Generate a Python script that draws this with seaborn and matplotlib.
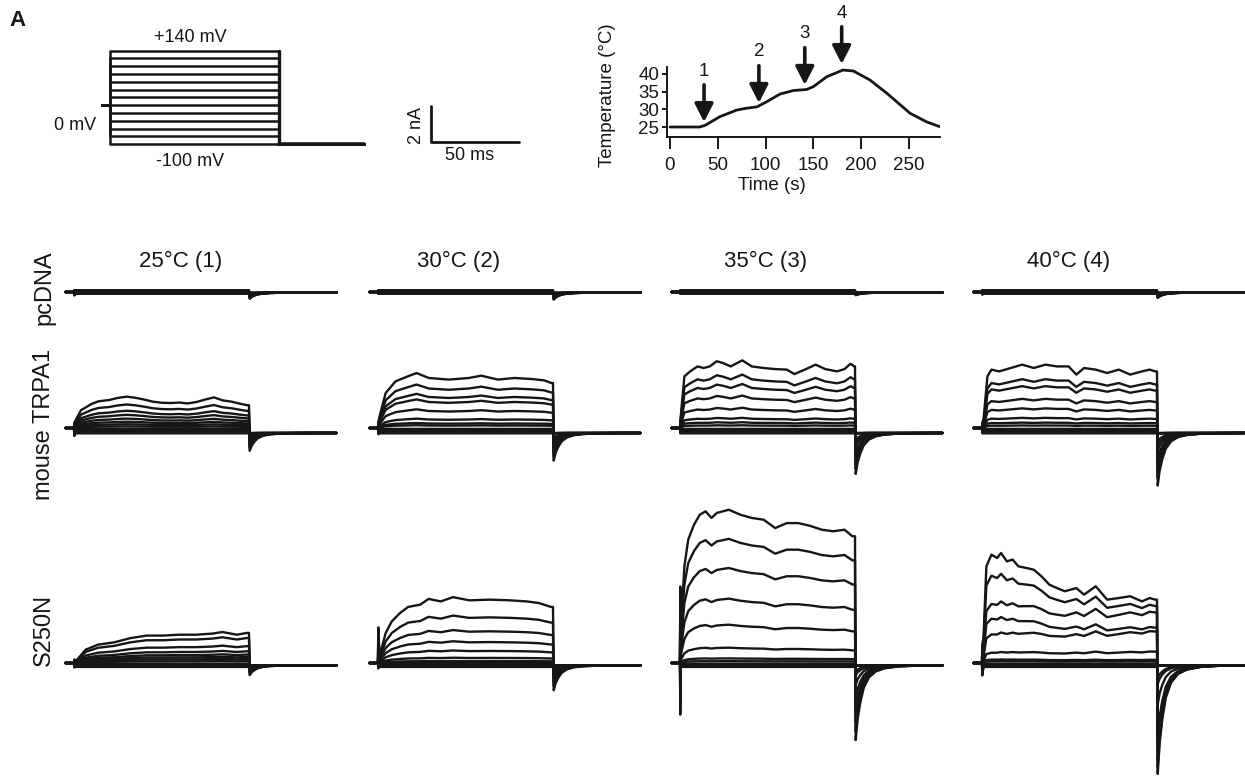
import numpy as np
import pandas as pd
import matplotlib
matplotlib.use("Agg")
import matplotlib.pyplot as plt
import seaborn as sns

sns.set_style("ticks")
plt.rcParams["font.family"] = ["Liberation Sans", "DejaVu Sans"]

W, H, DPI = 1245, 776, 100
INK = "#161616"

# ---------------- data ----------------
PROTO_STEPS_MV = [-100, -80, -60, -40, -20, 0, 20, 40, 60, 80, 100, 120, 140]
HOLD_MV = 0
TAIL_MV = -100
PRE_MS, STEP_MS, TAIL_MS = 5, 100, 50
SCALE_NA, SCALE_MS = 2, 50

TEMP_T = [0, 31, 37, 52, 70, 80, 91, 101, 115, 129, 143, 150, 164, 181, 192, 209, 227, 251, 268, 282]
TEMP_C = [25, 25, 25.5, 27.9, 29.8, 30.3, 30.7, 32.1, 34.3, 35.3, 35.6, 36.4, 39.2, 41.1, 40.8, 38.3, 34.5, 28.9, 26.5, 25.1]
ARROW_T = [35.6, 93, 141, 179.6]
ARROW_HEAD_C = [26.4, 31.8, 36.9, 42.8]
ARROW_LABELS = ["1", "2", "3", "4"]

COND_TITLES = ["25°C (1)", "30°C (2)", "35°C (3)", "40°C (4)"]
ROW_LABELS = ["pcDNA", "mouse TRPA1", "S250N"]

SWEEP_MV = [140, 120, 100, 80, 60, 40, 20, 0, -20, -40, -60, -80, -100]

# +140 mV sweep (ms, nA) for each panel
PC_T = [0, 1, 99]
PC_I = [0, 0.1, 0.1]

TRPA1_25_T = [0, 1, 4, 10, 14, 20, 25, 30, 35, 40, 45, 50, 55, 60, 65, 70, 75, 80, 85, 90, 95, 99]
TRPA1_25_I = [0, 0.45, 1.0, 1.35, 1.5, 1.57, 1.69, 1.76, 1.7, 1.6, 1.48, 1.42, 1.4, 1.43, 1.38, 1.46, 1.6, 1.72, 1.55, 1.48, 1.36, 1.28]
TRPA1_30_T = [0, 0.9, 4.4, 10, 17, 22, 29, 40.5, 52, 59, 68.5, 78, 87.8, 94.8, 99]
TRPA1_30_I = [0, 0.66, 1.97, 2.62, 2.9, 3.09, 2.81, 2.72, 2.81, 2.94, 2.72, 2.81, 2.75, 2.68, 2.53]
TRPA1_35_T = [0, 0.3, 2.5, 5.8, 10, 13.5, 17, 21, 24.6, 29, 35.6, 41, 47.8, 54.4, 61, 65.4, 72, 77.5, 83, 89.7, 94, 97.4, 99.6]
TRPA1_35_I = [0, 0.5, 2.9, 3.18, 3.46, 3.37, 3.46, 3.75, 3.65, 3.46, 3.8, 3.46, 3.37, 3.31, 3.28, 3.03, 3.31, 3.56, 3.31, 3.18, 3.31, 3.61, 3.46]
TRPA1_40_T = [0, 0.9, 3.1, 5.4, 9.8, 16.4, 23, 29.6, 36.2, 42.8, 49.5, 53.9, 58.3, 65, 71.5, 78.2, 84.7, 91.4, 95.8, 99]
TRPA1_40_I = [0, 0.5, 2.9, 3.28, 3.18, 3.37, 3.56, 3.37, 3.56, 3.46, 3.46, 3.0, 3.37, 3.28, 3.09, 3.28, 3.0, 3.18, 3.28, 3.18]

S250N_25_T = [0, 0.9, 6.7, 13.7, 23, 32.3, 41.6, 51, 60, 69.7, 79, 84.8, 93, 98.8]
S250N_25_I = [0, 0.09, 0.75, 1.03, 1.16, 1.4, 1.54, 1.54, 1.59, 1.59, 1.65, 1.74, 1.59, 1.69]
S250N_30_T = [0, 0.9, 4.4, 7.9, 12.6, 17.2, 24.2, 28.9, 35.9, 42.9, 52.2, 63.9, 75.5, 84.9, 91.9, 98.9]
S250N_30_I = [0, 0.37, 1.69, 2.34, 2.81, 3.15, 3.28, 3.6, 3.46, 3.7, 3.52, 3.56, 3.52, 3.46, 3.37, 3.15]
S250N_35_T = [0, 0.3, 2.5, 4.7, 8, 11.3, 14.6, 18, 21, 27.9, 34.5, 41, 47.8, 54.4, 61, 67.6, 74.2, 80.9, 87.5, 94, 98.5]
S250N_35_I = [0, 1.5, 5.43, 6.93, 7.77, 8.33, 8.52, 8.15, 8.43, 8.61, 8.33, 8.15, 8.05, 7.58, 7.86, 7.86, 7.71, 7.49, 7.4, 7.49, 7.12]
S250N_40_T = [0, 0.9, 2.5, 5.4, 8.6, 10.9, 14.2, 17.5, 20.8, 25.3, 29.6, 34, 38.5, 42.8, 47.3, 53.9, 58.3, 65, 71.5, 78.2, 84.7, 91.4, 95.8, 99]
S250N_40_I = [0, 1.5, 5.43, 6.09, 5.9, 6.18, 5.71, 5.81, 5.43, 5.34, 5.24, 4.87, 4.4, 4.21, 4.03, 4.21, 3.84, 4.31, 3.56, 3.65, 3.75, 3.46, 3.65, 3.56]

# fraction of the +140 mV sweep for sweeps +140 ... 0 mV (start / end of step)
PC_FRAC = [1, 0.8, 0.6, 0.4, 0.25, 0.15, 0.05, 0]
TRPA1_FRAC_25 = [1, 0.75, 0.55, 0.42, 0.30, 0.20, 0.12, 0.05]
TRPA1_FRAC_30 = [1, 0.79, 0.62, 0.52, 0.34, 0.17, 0.09, 0.05]
TRPA1_FRAC_35 = [1, 0.79, 0.65, 0.48, 0.30, 0.15, 0.085, 0.04]
TRPA1_FRAC_40 = [1, 0.77, 0.66, 0.46, 0.31, 0.16, 0.085, 0.04]
S250N_FRAC_25 = [1, 0.83, 0.56, 0.39, 0.28, 0.20, 0.13, 0.06]
S250N_FRAC_30 = [1, 0.72, 0.50, 0.33, 0.19, 0.08, 0.03, 0.01]
S250N_FRAC_35 = [1, 0.81, 0.62, 0.42, 0.25, 0.10, 0.03, 0.012]
S250N_FRAC_40_START = [1, 0.80, 0.53, 0.40, 0.25, 0.09, 0.03, 0.015]
S250N_FRAC_40_END = [1, 0.90, 0.80, 0.56, 0.50, 0.18, 0.05, 0.025]

# steady currents (nA) of the -20 ... -100 mV sweeps
PC_NEG = [-0.02, -0.04, -0.06, -0.08, -0.1]
TRPA1_NEG = [-0.05, -0.1, -0.16, -0.23, -0.3]
S250N_NEG = [-0.04, -0.08, -0.12, -0.17, -0.22]

# tail current at -100 mV (nA) per temperature, and level it settles to
PC_TAIL = [0, 0, 0, 0]
TRPA1_TAIL = [0.9, 1.45, 2.2, 2.85]
S250N_TAIL = [0.45, 1.3, 4.1, 6.0]
PC_CAP_END = [0.35, 0.4, 0.15, 0.3]
TRPA1_CAP_END = [0.1, 0.1, 0.1, 0.1]
S250N_CAP_END = [0.1, 0.1, 0.1, 0.1]
TAIL_BASE = [-0.03, -0.28, -0.13]
TAIL_T = [0.4, 1.5, 3, 5, 8, 12, 17, 25, 35, 50]
TAIL_SHAPE = [-1, -0.72, -0.5, -0.3, -0.16, -0.08, -0.04, -0.015, -0.005, 0]

# capacitive transients at step onset (nA): +140 mV sweep / -100 mV sweep
PC_ON_POS = [0.1, 0.1, 0.1, 0.1]
PC_ON_NEG = [-0.2, -0.1, -0.1, -0.15]
TRPA1_ON_POS = [0.3, 0.3, 0.3, 0.3]
TRPA1_ON_NEG = [-0.45, -0.35, -0.3, -0.3]
S250N_ON_POS = [0.2, 2.0, 4.3, 1.0]
S250N_ON_NEG = [-0.25, -0.3, -2.9, -0.7]

# ---------------- layout helpers ----------------
fig = plt.figure(figsize=(W / DPI, H / DPI), dpi=DPI)


def px_axes(x0, y0, x1, y1):
    ax = fig.add_axes([x0 / W, 1 - y1 / H, (x1 - x0) / W, (y1 - y0) / H])
    ax.patch.set_alpha(0)
    return ax


def ftext(x, y, s, **kw):
    kw.setdefault("color", INK)
    return fig.text(x / W, 1 - y / H, s, **kw)


# ---------------- panel label ----------------
ftext(18, 21, "A", fontsize=16, fontweight="bold", ha="center", va="center")

# ---------------- voltage protocol ----------------
PR_T0, PR_MSPX, PR_MV0, PR_MVPX = 110, 1.69, 105.3, 0.39
axP = px_axes(PR_T0 - 8 * PR_MSPX, PR_MV0 - 150 * PR_MVPX, PR_T0 + 152 * PR_MSPX, PR_MV0 + 112 * PR_MVPX)
prot = []
for v in PROTO_STEPS_MV:
    xs = [-PRE_MS, 0, 0, STEP_MS, STEP_MS, STEP_MS + TAIL_MS]
    ys = [HOLD_MV, HOLD_MV, v, v, TAIL_MV, TAIL_MV]
    for x, y in zip(xs, ys):
        prot.append((v, x, y))
dfp = pd.DataFrame(prot, columns=["sweep", "t", "mv"])
sns.lineplot(data=dfp, x="t", y="mv", units="sweep", estimator=None, sort=False,
             color=INK, lw=1.8, ax=axP, legend=False)
axP.plot([STEP_MS, STEP_MS + TAIL_MS], [TAIL_MV, TAIL_MV], color=INK, lw=2.6)
axP.plot([STEP_MS, STEP_MS], [TAIL_MV, max(PROTO_STEPS_MV)], color=INK, lw=2.4)
axP.set_xlim(-8, 152)
axP.set_ylim(-112, 150)
axP.axis("off")
ftext(190, 38, "+140 mV", fontsize=13, ha="center", va="center")
ftext(190, 162, "-100 mV", fontsize=13, ha="center", va="center")
ftext(75, 125, "0 mV", fontsize=13, ha="center", va="center")

# ---------------- scale bar ----------------
MS_PX, NA_PX = 1.75, 17.8
SB_X, SB_Y = 431, 142
axS = px_axes(SB_X - 2, SB_Y - 3 * NA_PX, SB_X + 60 * MS_PX, SB_Y + 2)
sb = pd.DataFrame({"t": [0, 0, SCALE_MS], "i": [SCALE_NA, 0, 0]})
sns.lineplot(data=sb, x="t", y="i", sort=False, estimator=None, color=INK, lw=2.0, ax=axS)
axS.set_xlim(-2 / MS_PX, 60)
axS.set_ylim(-2 / NA_PX, 3)
axS.axis("off")
ftext(416, 125, f"{SCALE_NA} nA", fontsize=13, rotation=90, ha="center", va="center")
ftext(470, 155, f"{SCALE_MS} ms", fontsize=13, ha="center", va="center")

# ---------------- temperature time course ----------------
T_X0, T_PX = 670, 0.956
C25_Y, C_PX = 127, 3.54
axT = px_axes(T_X0 - 3 * T_PX, C25_Y - (41.9 - 25) * C_PX, T_X0 + 282 * T_PX, C25_Y + (25 - 22.2) * C_PX)
sns.lineplot(x=TEMP_T, y=TEMP_C, ax=axT, color=INK, lw=2.0, sort=False, estimator=None)
axT.set_xlim(-3, 282)
axT.set_ylim(22.2, 41.9)
sns.despine(ax=axT)
for s in ["left", "bottom"]:
    axT.spines[s].set_linewidth(1.4)
    axT.spines[s].set_color(INK)
axT.set_xticks([0, 50, 100, 150, 200, 250])
axT.set_yticks([25, 30, 35, 40])
axT.tick_params(axis="x", length=8.5, width=1.4, labelsize=13.5, pad=6, color=INK, labelcolor=INK)
axT.tick_params(axis="y", length=3.8, width=1.4, labelsize=13.5, pad=2, color=INK, labelcolor=INK)
axT.set_xlabel("")
axT.set_ylabel("")
ftext(772, 186, "Time (s)", fontsize=13.5, ha="center", va="center")
ftext(607, 95, "Temperature (°C)", fontsize=13.5, rotation=90, ha="center", va="center")
for t, hc, lab in zip(ARROW_T, ARROW_HEAD_C, ARROW_LABELS):
    axT.annotate("", xy=(t, hc), xytext=(t, hc + 10.5),
                 arrowprops=dict(arrowstyle="-|>,head_length=0.55,head_width=0.28",
                                 mutation_scale=20, lw=2.6, color=INK, shrinkA=0, shrinkB=0),
                 annotation_clip=False)
    axT.text(t, hc + 14.4, lab, fontsize=13.5, ha="center", va="center", color=INK, clip_on=False)

# ---------------- current traces ----------------
COL_T0 = [74, 378, 680, 982]
ROW_BASE = [292, 428, 663]
COL_TITLE_X = [181, 459, 766, 1069]
YLO, YHI = -7.5, 10

panels = {
    0: [(PC_T, PC_I, PC_FRAC, PC_FRAC)] * 4,
    1: [(TRPA1_25_T, TRPA1_25_I, TRPA1_FRAC_25, TRPA1_FRAC_25),
        (TRPA1_30_T, TRPA1_30_I, TRPA1_FRAC_30, TRPA1_FRAC_30),
        (TRPA1_35_T, TRPA1_35_I, TRPA1_FRAC_35, TRPA1_FRAC_35),
        (TRPA1_40_T, TRPA1_40_I, TRPA1_FRAC_40, TRPA1_FRAC_40)],
    2: [(S250N_25_T, S250N_25_I, S250N_FRAC_25, S250N_FRAC_25),
        (S250N_30_T, S250N_30_I, S250N_FRAC_30, S250N_FRAC_30),
        (S250N_35_T, S250N_35_I, S250N_FRAC_35, S250N_FRAC_35),
        (S250N_40_T, S250N_40_I, S250N_FRAC_40_START, S250N_FRAC_40_END)],
}
row_neg = [PC_NEG, TRPA1_NEG, S250N_NEG]
row_tail = [PC_TAIL, TRPA1_TAIL, S250N_TAIL]
row_cap = [PC_CAP_END, TRPA1_CAP_END, S250N_CAP_END]
row_onp = [PC_ON_POS, TRPA1_ON_POS, S250N_ON_POS]
row_onn = [PC_ON_NEG, TRPA1_ON_NEG, S250N_ON_NEG]

tail_t = np.array(TAIL_T, dtype=float)
tail_s = np.array(TAIL_SHAPE, dtype=float)

for r in range(3):
    for c in range(4):
        t_k, i_k, fs_l, fe_l = panels[r][c]
        tk = np.array(list(t_k) + [STEP_MS], dtype=float)
        ik = np.array(list(i_k) + [i_k[-1]], dtype=float)
        recs = []
        for k, v in enumerate(SWEEP_MV):
            if k < 8:
                fs, fe = fs_l[k], fe_l[k]
                level = ik * (fs + (fe - fs) * tk / STEP_MS)
                tail_amp = row_tail[r][c] * max(fe, 0) ** 0.6
            else:
                level = np.full_like(tk, row_neg[r][k - 8])
                tail_amp = 0.0
            tail_amp += row_cap[r][c] * (v - TAIL_MV) / (max(SWEEP_MV) - TAIL_MV)
            onset = row_onp[r][c] * v / max(SWEEP_MV) if v > 0 else row_onn[r][c] * (-v) / (-TAIL_MV)
            xs = [-PRE_MS, 0, 0.15] + list(tk[1:]) + list(STEP_MS + tail_t)
            ys = [0, 0, onset] + list(level[1:]) + list(TAIL_BASE[r] + tail_amp * tail_s)
            for x, y in zip(xs, ys):
                recs.append((v, x, y))
        df = pd.DataFrame(recs, columns=["sweep", "t", "i"])
        t0, b = COL_T0[c], ROW_BASE[r]
        ax = px_axes(t0 - 6 * MS_PX, b - YHI * NA_PX, t0 + 152 * MS_PX, b - YLO * NA_PX)
        sns.lineplot(data=df, x="t", y="i", units="sweep", estimator=None, sort=False,
                     color=INK, lw=1.7, ax=ax, legend=False)
        ax.set_xlim(-6, 152)
        ax.set_ylim(YLO, YHI)
        ax.axis("off")

for c, title in enumerate(COND_TITLES):
    ftext(COL_TITLE_X[c], 267, title, fontsize=16, ha="center", va="baseline")

ROW_LABEL_Y = [288, 424, 630]
for r, lab in enumerate(ROW_LABELS):
    ftext(44, ROW_LABEL_Y[r], lab, fontsize=17, rotation=90, ha="center", va="center")

fig.savefig("out.png", dpi=DPI)
